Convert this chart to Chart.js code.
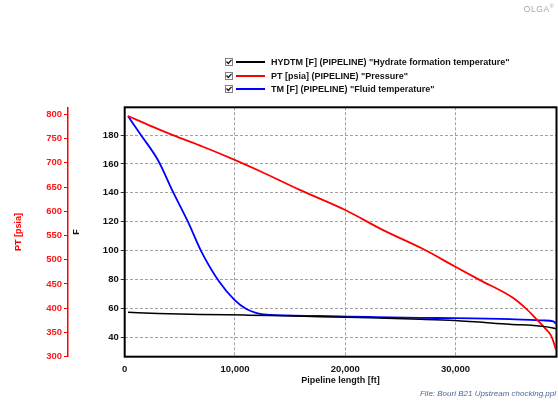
<!DOCTYPE html>
<html>
<head>
<meta charset="utf-8">
<script src="https://cdn.jsdelivr.net/npm/chart.js@4.4.0/dist/chart.umd.min.js"></script>
<style>
  html, body { margin: 0; padding: 0; background: #fff; }
  #wrap { position: relative; width: 558px; height: 403px; font-family: Arial, "Liberation Sans", sans-serif; }
  #chart { position: absolute; left: 0; top: 0; }
  .legend { position: absolute; left: 225px; top: 55px; font-size: 9px; font-weight: bold; color: #111; }
  .row { height: 13.7px; display: flex; align-items: center; white-space: nowrap; }
  .box { width: 6px; height: 6px; border: 1px solid #808080; margin-right: 3px; position: relative; background: #fff; }
  .box svg { position: absolute; left: 0; top: 0; }
  .swatch { width: 29px; height: 2px; margin-right: 6px; }
  #olga { position: absolute; right: 4px; top: 3px; font-size: 8.5px; color: #a8a8a8; letter-spacing: 0.6px; }
  #olga sup { font-size: 5px; }
  #file { position: absolute; right: 2px; top: 389px; font-size: 8px; font-style: italic; color: #4a6a96; }
</style>
</head>
<body>
<div id="wrap">
  <canvas id="chart" width="558" height="403"></canvas>
  <div class="legend" id="legend"></div>
  <div id="olga">OLGA<sup>®</sup></div>
  <div id="file">File: Bouri B21 Upstream chocking.ppl</div>
</div>
<script>
// Pipeline length [ft] for each series
const hydX = [300, 3000, 6900, 11000, 13150, 17700, 22200, 26800, 29900, 34900, 37950, 39100];
const hydF = [57.2, 56.5, 55.8, 55.3, 55.0, 54.2, 53.4, 52.4, 51.5, 49.0, 47.5, 45.9];

const ptX = [300, 2560, 4370, 7100, 9970, 12240, 15870, 19950, 23430, 27060, 29940, 32210, 35230, 36440, 37350, 38100, 38620, 38920, 39100];
const ptP = [796.5, 774, 757, 733, 706, 683, 644, 603, 561, 522, 486, 458, 421, 398, 377, 359, 345, 328, 314];

const tmX = [300, 1470, 3010, 4370, 5730, 6950, 8610, 9970, 11030, 11630, 12060, 13150, 17700, 22200, 26800, 29900, 34900, 37950, 38860, 39100];
const tmF = [193.1, 180, 162.7, 140.8, 120, 99.3, 78, 65.7, 59.5, 57.6, 56.5, 55.4, 54.7, 54.0, 53.4, 53.2, 52.5, 51.6, 50.9, 49.3];

const xTicks = [0, 10000, 20000, 30000];
const fTicks = [40, 60, 80, 100, 120, 140, 160, 180];
const ptTicks = [300, 350, 400, 450, 500, 550, 600, 650, 700, 750, 800];

const series = [
  { label: 'HYDTM [F] (PIPELINE) "Hydrate formation temperature"', color: '#000000', x: hydX, y: hydF, axis: 'y' },
  { label: 'PT [psia] (PIPELINE) "Pressure"', color: '#ff0000', x: ptX, y: ptP, axis: 'pt' },
  { label: 'TM [F] (PIPELINE) "Fluid temperature"', color: '#0000ff', x: tmX, y: tmF, axis: 'y' }
];

// legend with checkboxes, like the original tool
const legend = document.getElementById("legend");
series.forEach(s => {
  legend.innerHTML += `
    <div class="row">
      <span class="box"><svg width="6" height="6"><path d="M0.5 2.5 L2.3 4.5 L5.5 0.8" stroke="#111" stroke-width="1.2" fill="none"/></svg></span>
      <span class="swatch" style="background:${s.color}"></span>
      <span>${s.label}</span>
    </div>`;
});

const tickFont = { family: 'Arial, "Liberation Sans", sans-serif', size: 9.5, weight: 'bold' };
const titleFont = { family: 'Arial, "Liberation Sans", sans-serif', size: 9, weight: 'bold' };

const frame = {
  id: 'frame',
  beforeDatasetsDraw(chart) {
    const a = chart.chartArea;
    const ctx = chart.ctx;
    ctx.save();
    ctx.strokeStyle = '#000';
    ctx.lineWidth = 2;
    ctx.strokeRect(a.left, a.top, a.right - a.left, a.bottom - a.top);
    ctx.restore();
  }
};

new Chart(document.getElementById("chart"), {
  type: 'line',
  data: {
    datasets: series.map(s => ({
      label: s.label,
      data: s.x.map((v, i) => ({ x: v, y: s.y[i] })),
      borderColor: s.color,
      borderWidth: s.color === '#000000' ? 1.5 : 1.8,
      pointRadius: 0,
      cubicInterpolationMode: 'monotone',
      yAxisID: s.axis
    }))
  },
  options: {
    responsive: false,
    animation: false,
    events: [],
    layout: { padding: { left: 0, right: 1.5, top: 107.3, bottom: 17.3 } },
    plugins: { legend: { display: false }, tooltip: { enabled: false } },
    scales: {
      x: {
        type: 'linear',
        position: 'bottom',
        min: 0,
        max: 39150,
        afterBuildTicks: axis => { axis.ticks = xTicks.map(v => ({ value: v })); },
        afterFit: axis => { axis.height = 29; },
        grid: { color: '#a0a0a0', drawTicks: false },
        border: { display: false, dash: [3, 2] },
        ticks: {
          color: '#111',
          font: tickFont,
          padding: 7,
          maxRotation: 0,
          callback: v => v.toLocaleString('en-US')
        },
        title: { display: true, text: 'Pipeline length [ft]', color: '#111', font: titleFont, padding: { top: 0, bottom: 0 } }
      },
      y: {
        type: 'linear',
        position: 'left',
        weight: 0,
        min: 26.5,
        max: 199.2,
        afterBuildTicks: axis => { axis.ticks = fTicks.map(v => ({ value: v })); },
        afterFit: axis => { axis.width = 56.7; },
        grid: { color: '#a0a0a0', tickLength: 4, tickColor: '#333' },
        border: { display: false, dash: [3, 2] },
        ticks: { color: '#111', font: tickFont, padding: 2 },
        title: { display: true, text: 'F', color: '#111', font: titleFont, padding: { top: 3.1, bottom: 0 } }
      },
      pt: {
        type: 'linear',
        position: 'left',
        weight: 1,
        min: 300,
        max: 814.4,
        afterBuildTicks: axis => { axis.ticks = ptTicks.map(v => ({ value: v })); },
        afterFit: axis => { axis.width = 68; },
        grid: { drawOnChartArea: false, tickLength: 4, tickColor: '#ff0000' },
        border: { display: true, color: '#ff0000', width: 1.5 },
        ticks: { color: '#ff1a1a', font: tickFont, padding: 2 },
        title: { display: true, text: 'PT [psia]', color: '#ff0000', font: titleFont, padding: { top: 12.9, bottom: 0 } }
      }
    }
  },
  plugins: [frame]
});
</script>
</body>
</html>
